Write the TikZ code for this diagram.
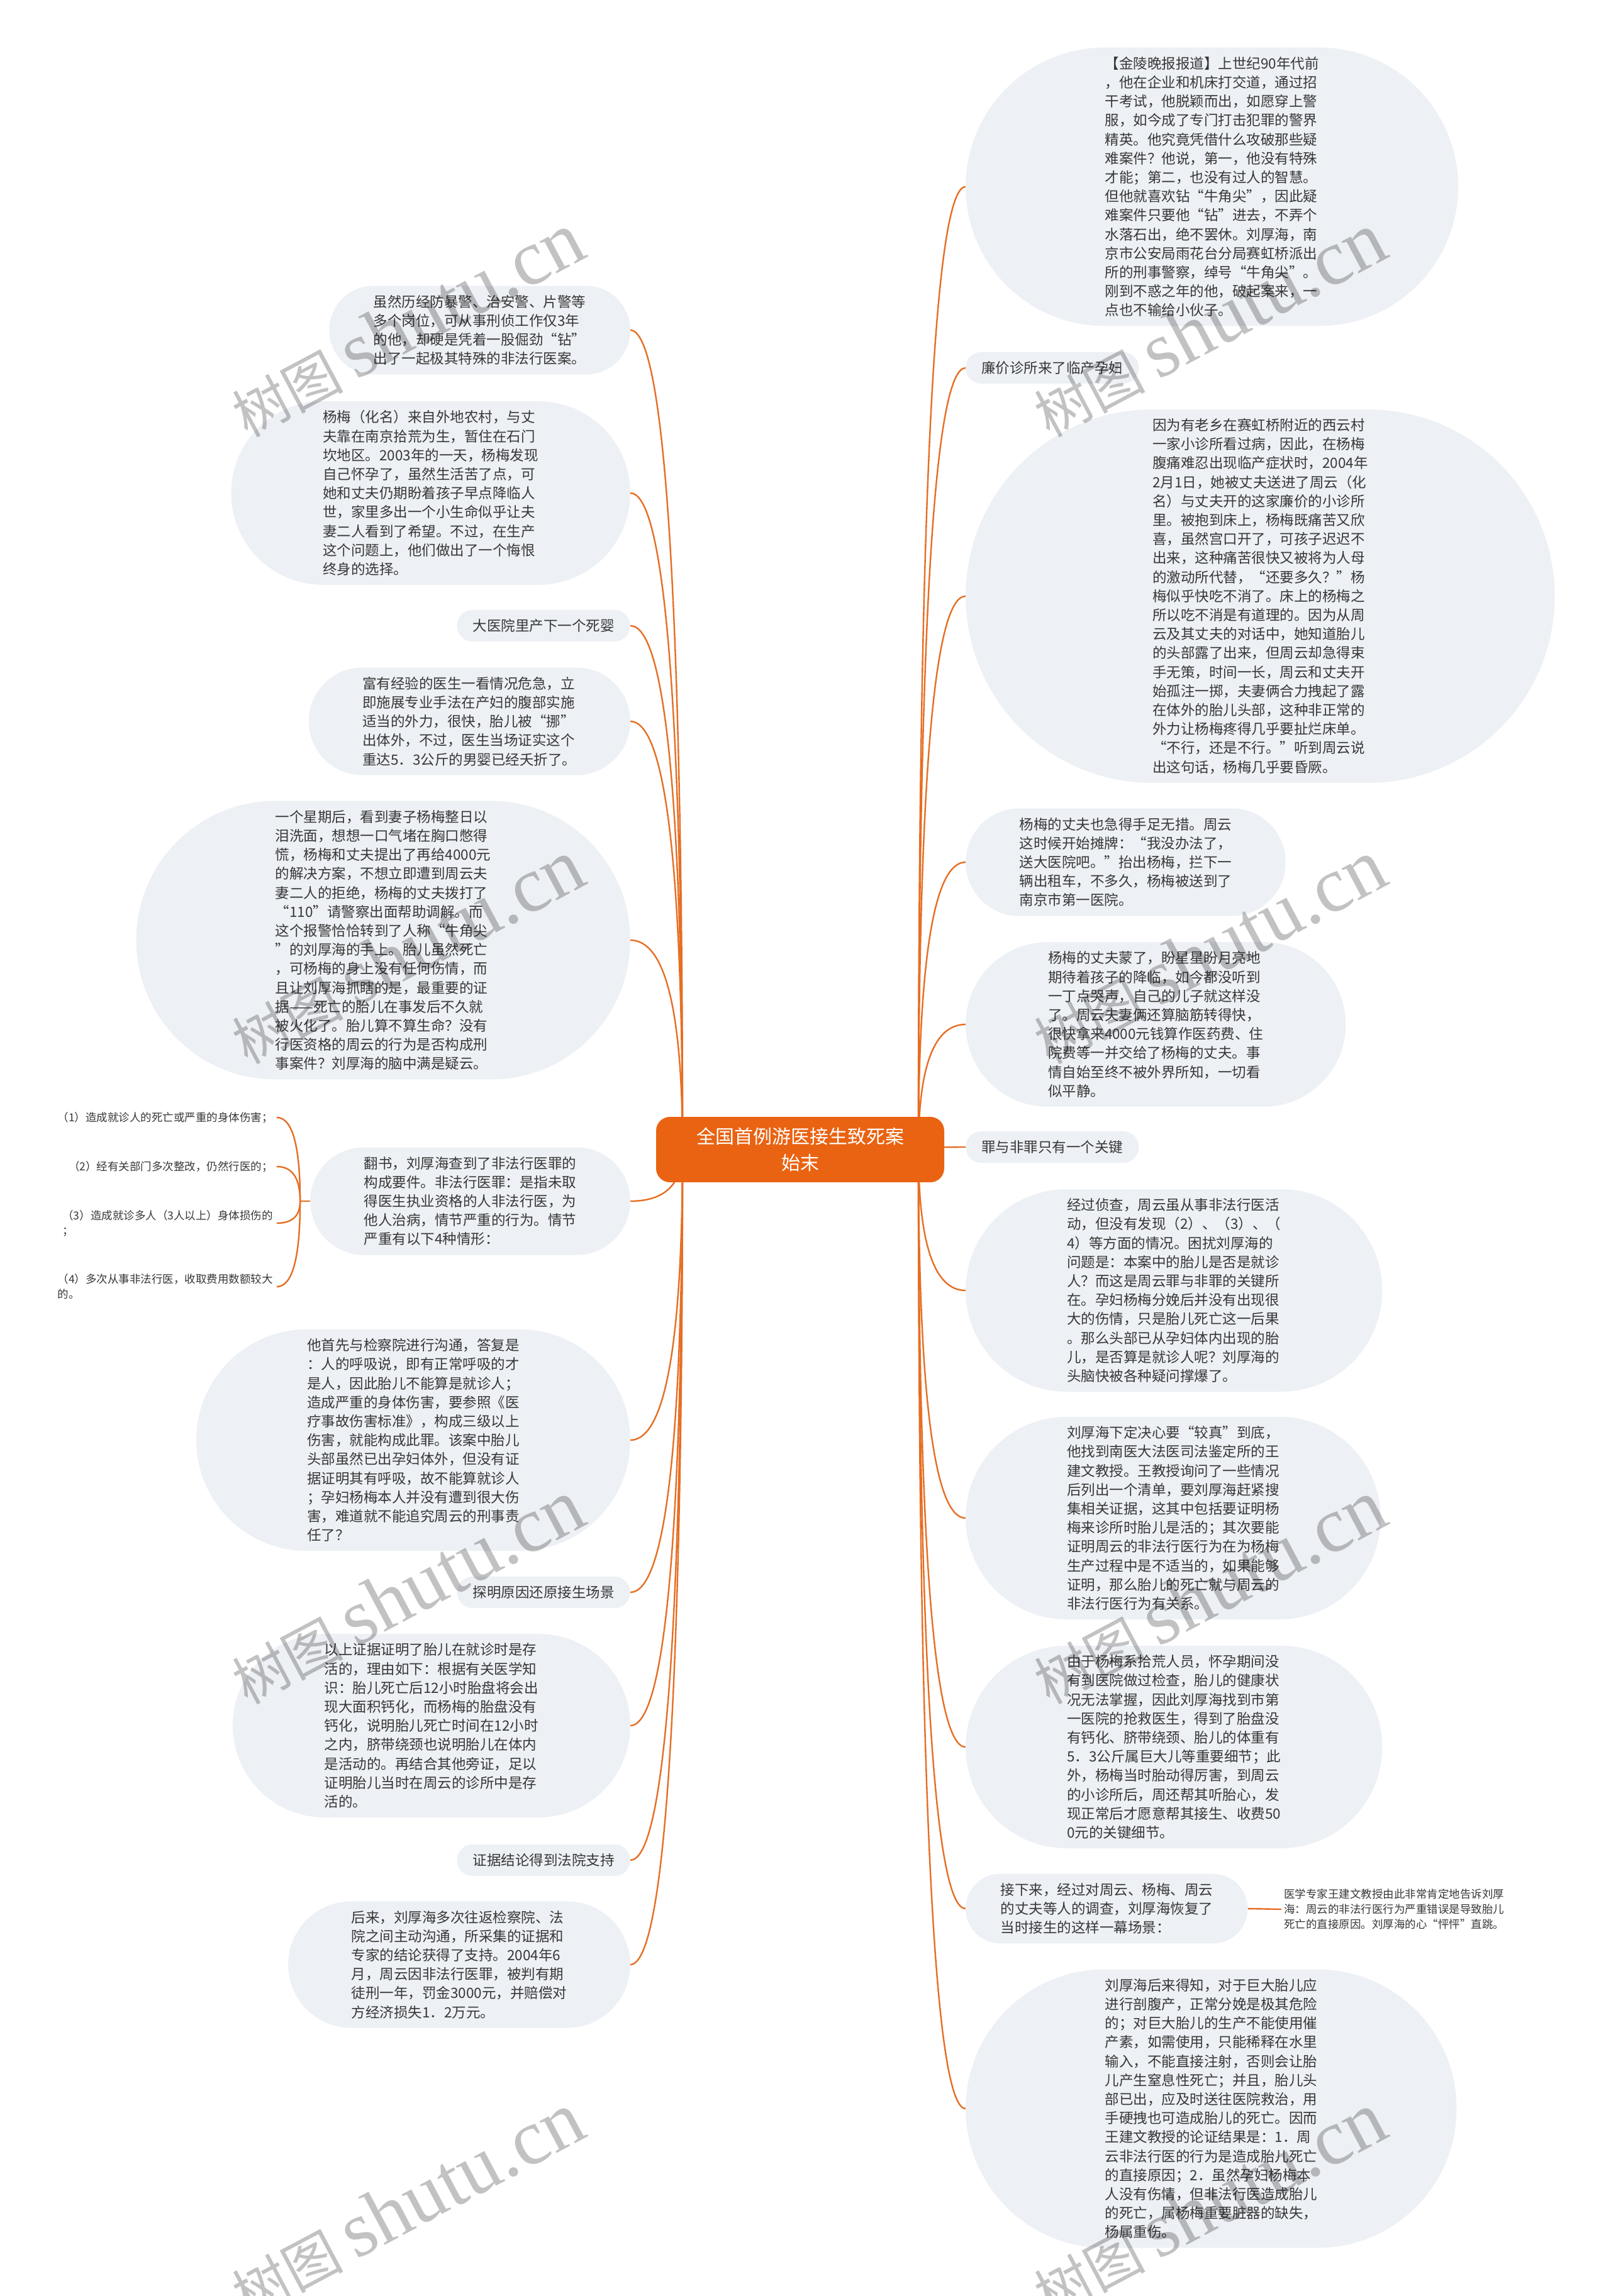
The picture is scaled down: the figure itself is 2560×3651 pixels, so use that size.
\documentclass[tikz,border=0pt]{standalone}
\usepackage{fontspec}
\setmainfont{Noto Sans CJK SC}
\newfontfamily\wmlat{Liberation Serif}
\usetikzlibrary{calc}
\definecolor{bubfill}{RGB}{237,240,244}
\definecolor{txtc}{RGB}{55,55,55}
\definecolor{rootc}{RGB}{233,99,18}
\definecolor{connc}{RGB}{230,110,35}
\pgfdeclarelayer{bg}\pgfdeclarelayer{fg}\pgfsetlayers{bg,main,fg}
\newcommand\mmbodyf{\fontsize{22.5pt}{30.2pt}\selectfont}
\newcommand\mmsmallf{\fontsize{17.5pt}{24pt}\selectfont}
\newcommand\mkbub[6]{%
  \pgfmathsetmacro\bubH{#5*30.2+20}%
  \pgfmathsetmacro\bubR{\bubH/2}%
  \pgfmathsetmacro\bubRc{\bubR-0.3}%
  \node[bub, anchor=#2, minimum height=\bubH pt, inner xsep=\bubR pt, rounded corners=\bubRc pt] (#1) at (#3,#4) {#6};%
}
\newcommand\rconn[1]{\draw[conn] (rR) .. controls ($(rR)!0.667!(rR |- #1.west)$) and ($(#1.west)!0.667!(rR |- #1.west)$) .. (#1.west);}
\newcommand\lconn[1]{\draw[conn] (rL) .. controls ($(rL)!0.667!(rL |- #1.east)$) and ($(#1.east)!0.667!(rL |- #1.east)$) .. (#1.east);}
\newcommand\bconn[1]{\draw[conn] (j6) .. controls ($(j6)!0.667!(j6 |- #1.east)$) and ($(#1.east)!0.667!(j6 |- #1.east)$) .. (#1.east);}
\begin{document}
\begin{tikzpicture}[x=1pt,y=-1pt,
  bub/.style={fill=bubfill, text=txtc, font=\mmbodyf, align=left, inner ysep=0pt},
  item/.style={text=txtc, font=\mmsmallf, align=left, inner xsep=6pt, inner ysep=2pt},
  conn/.style={draw=connc, line width=2.4pt},
  wm/.style={rotate=28, opacity=0.24, text=black}]
\useasboundingbox (0,0) rectangle (2560,3651);

% root
\node[fill=rootc, text=white, rounded corners=22pt, align=center, inner xsep=64pt, inner ysep=17pt,
  font=\fontsize{30pt}{42pt}\selectfont] (root) at (1272,1828) {全国首例游医接生致死案\\始末};
\coordinate (rR) at (1460,1828);
\coordinate (rL) at (1085,1828);

% right side
\mkbub{R1}{west}{1535}{297}{14}{【金陵晚报报道】上世纪90年代前\\，他在企业和机床打交道，通过招\\干考试，他脱颖而出，如愿穿上警\\服，如今成了专门打击犯罪的警界\\精英。他究竟凭借什么攻破那些疑\\难案件？他说，第一，他没有特殊\\才能；第二，也没有过人的智慧。\\但他就喜欢钻“牛角尖”，因此疑\\难案件只要他“钻”进去，不弄个\\水落石出，绝不罢休。刘厚海，南\\京市公安局雨花台分局赛虹桥派出\\所的刑事警察，绰号“牛角尖”。\\刚到不惑之年的他，破起案来，一\\点也不输给小伙子。}
\mkbub{R2}{west}{1535}{585}{1}{廉价诊所来了临产孕妇}
\mkbub{R3}{west}{1535}{948}{19}{因为有老乡在赛虹桥附近的西云村\\一家小诊所看过病，因此，在杨梅\\腹痛难忍出现临产症状时，2004年\\2月1日，她被丈夫送进了周云（化\\名）与丈夫开的这家廉价的小诊所\\里。被抱到床上，杨梅既痛苦又欣\\喜，虽然宫口开了，可孩子迟迟不\\出来，这种痛苦很快又被将为人母\\的激动所代替，“还要多久？”杨\\梅似乎快吃不消了。床上的杨梅之\\所以吃不消是有道理的。因为从周\\云及其丈夫的对话中，她知道胎儿\\的头部露了出来，但周云却急得束\\手无策，时间一长，周云和丈夫开\\始孤注一掷，夫妻俩合力拽起了露\\在体外的胎儿头部，这种非正常的\\外力让杨梅疼得几乎要扯烂床单。\\“不行，还是不行。”听到周云说\\出这句话，杨梅几乎要昏厥。}
\mkbub{R4}{west}{1535}{1371}{5}{杨梅的丈夫也急得手足无措。周云\\这时候开始摊牌：“我没办法了，\\送大医院吧。”抬出杨梅，拦下一\\辆出租车，不多久，杨梅被送到了\\南京市第一医院。}
\mkbub{R5}{west}{1535}{1629}{8}{杨梅的丈夫蒙了，盼星星盼月亮地\\期待着孩子的降临，如今都没听到\\一丁点哭声，自己的儿子就这样没\\了。周云夫妻俩还算脑筋转得快，\\很快拿来4000元钱算作医药费、住\\院费等一并交给了杨梅的丈夫。事\\情自始至终不被外界所知，一切看\\似平静。}
\mkbub{R6}{west}{1535}{1824}{1}{罪与非罪只有一个关键}
\mkbub{R7}{west}{1535}{2052}{10}{经过侦查，周云虽从事非法行医活\\动，但没有发现（2）、（3）、（\\4）等方面的情况。困扰刘厚海的\\问题是：本案中的胎儿是否是就诊\\人？而这是周云罪与非罪的关键所\\在。孕妇杨梅分娩后并没有出现很\\大的伤情，只是胎儿死亡这一后果\\。那么头部已从孕妇体内出现的胎\\儿，是否算是就诊人呢？刘厚海的\\头脑快被各种疑问撑爆了。}
\mkbub{R8}{west}{1535}{2414}{10}{刘厚海下定决心要“较真”到底，\\他找到南医大法医司法鉴定所的王\\建文教授。王教授询问了一些情况\\后列出一个清单，要刘厚海赶紧搜\\集相关证据，这其中包括要证明杨\\梅来诊所时胎儿是活的；其次要能\\证明周云的非法行医行为在为杨梅\\生产过程中是不适当的，如果能够\\证明，那么胎儿的死亡就与周云的\\非法行医行为有关系。}
\mkbub{R9}{west}{1535}{2778}{10}{由于杨梅系拾荒人员，怀孕期间没\\有到医院做过检查，胎儿的健康状\\况无法掌握，因此刘厚海找到市第\\一医院的抢救医生，得到了胎盘没\\有钙化、脐带绕颈、胎儿的体重有\\5．3公斤属巨大儿等重要细节；此\\外，杨梅当时胎动得厉害，到周云\\的小诊所后，周还帮其听胎心，发\\现正常后才愿意帮其接生、收费50\\0元的关键细节。}
\mkbub{R10}{west}{1535}{3035}{3}{接下来，经过对周云、杨梅、周云\\的丈夫等人的调查，刘厚海恢复了\\当时接生的这样一幕场景：}
\node[item, anchor=west, inner xsep=4pt] (R10n) at (2037,3036) {医学专家王建文教授由此非常肯定地告诉刘厚\\海：周云的非法行医行为严重错误是导致胎儿\\死亡的直接原因。刘厚海的心“怦怦”直跳。};
\mkbub{R11}{west}{1535}{3353}{14}{刘厚海后来得知，对于巨大胎儿应\\进行剖腹产，正常分娩是极其危险\\的；对巨大胎儿的生产不能使用催\\产素，如需使用，只能稀释在水里\\输入，不能直接注射，否则会让胎\\儿产生窒息性死亡；并且，胎儿头\\部已出，应及时送往医院救治，用\\手硬拽也可造成胎儿的死亡。因而\\王建文教授的论证结果是：1．周\\云非法行医的行为是造成胎儿死亡\\的直接原因；2．虽然孕妇杨梅本\\人没有伤情，但非法行医造成胎儿\\的死亡，属杨梅重要脏器的缺失，\\杨属重伤。}

% left side
\mkbub{L1}{east}{1002}{525}{4}{虽然历经防暴警、治安警、片警等\\多个岗位，可从事刑侦工作仅3年\\的他，却硬是凭着一股倔劲“钻”\\出了一起极其特殊的非法行医案。}
\mkbub{L2}{east}{1002}{784}{9}{杨梅（化名）来自外地农村，与丈\\夫靠在南京拾荒为生，暂住在石门\\坎地区。2003年的一天，杨梅发现\\自己怀孕了，虽然生活苦了点，可\\她和丈夫仍期盼着孩子早点降临人\\世，家里多出一个小生命似乎让夫\\妻二人看到了希望。不过，在生产\\这个问题上，他们做出了一个悔恨\\终身的选择。}
\mkbub{L3}{east}{1002}{995}{1}{大医院里产下一个死婴}
\mkbub{L4}{east}{1002}{1147}{5}{富有经验的医生一看情况危急，立\\即施展专业手法在产妇的腹部实施\\适当的外力，很快，胎儿被“挪”\\出体外，不过，医生当场证实这个\\重达5．3公斤的男婴已经夭折了。}
\mkbub{L5}{east}{1002}{1495}{14}{一个星期后，看到妻子杨梅整日以\\泪洗面，想想一口气堵在胸口憋得\\慌，杨梅和丈夫提出了再给4000元\\的解决方案，不想立即遭到周云夫\\妻二人的拒绝，杨梅的丈夫拨打了\\“110”请警察出面帮助调解。而\\这个报警恰恰转到了人称“牛角尖\\”的刘厚海的手上。胎儿虽然死亡\\，可杨梅的身上没有任何伤情，而\\且让刘厚海抓瞎的是，最重要的证\\据——死亡的胎儿在事发后不久就\\被火化了。胎儿算不算生命？没有\\行医资格的周云的行为是否构成刑\\事案件？刘厚海的脑中满是疑云。}
\mkbub{L6}{east}{1002}{1910}{5}{翻书，刘厚海查到了非法行医罪的\\构成要件。非法行医罪：是指未取\\得医生执业资格的人非法行医，为\\他人治病，情节严重的行为。情节\\严重有以下4种情形：}
\node[item, anchor=east] (I1) at (440,1777) {（1）造成就诊人的死亡或严重的身体伤害；};
\node[item, anchor=east] (I2) at (440,1855) {（2）经有关部门多次整改，仍然行医的；};
\node[item, anchor=east] (I3) at (440,1945) {（3）造成就诊多人（3人以上）身体损伤的\\；};
\node[item, anchor=east] (I4) at (440,2046) {（4）多次从事非法行医，收取费用数额较大\\的。};
\mkbub{L7}{east}{1002}{2290}{11}{他首先与检察院进行沟通，答复是\\：人的呼吸说，即有正常呼吸的才\\是人，因此胎儿不能算是就诊人；\\造成严重的身体伤害，要参照《医\\疗事故伤害标准》，构成三级以上\\伤害，就能构成此罪。该案中胎儿\\头部虽然已出孕妇体外，但没有证\\据证明其有呼吸，故不能算就诊人\\；孕妇杨梅本人并没有遭到很大伤\\害，难道就不能追究周云的刑事责\\任了？}
\mkbub{L8}{east}{1002}{2532}{1}{探明原因还原接生场景}
\mkbub{L9}{east}{1002}{2744}{9}{以上证据证明了胎儿在就诊时是存\\活的，理由如下：根据有关医学知\\识：胎儿死亡后12小时胎盘将会出\\现大面积钙化，而杨梅的胎盘没有\\钙化，说明胎儿死亡时间在12小时\\之内，脐带绕颈也说明胎儿在体内\\是活动的。再结合其他旁证，足以\\证明胎儿当时在周云的诊所中是存\\活的。}
\mkbub{L10}{east}{1002}{2958}{1}{证据结论得到法院支持}
\mkbub{L11}{east}{1002}{3124}{6}{后来，刘厚海多次往返检察院、法\\院之间主动沟通，所采集的证据和\\专家的结论获得了支持。2004年6\\月，周云因非法行医罪，被判有期\\徒刑一年，罚金3000元，并赔偿对\\方经济损失1．2万元。}

\begin{pgfonlayer}{bg}
\fill[white] (0,0) rectangle (2560,3651);
\foreach \n in {R1,R2,R3,R4,R5,R6,R7,R8,R9,R10,R11} {\rconn{\n}}
\foreach \n in {L1,L2,L3,L4,L5,L6,L7,L8,L9,L10,L11} {\lconn{\n}}
\coordinate (j6) at ($(L6.west)+(-16,0)$);
\draw[conn] (L6.west) -- (j6);
\foreach \n in {I1,I2,I3,I4} {\bconn{\n}}
\draw[conn] (R10.east) -- (R10n.west);
\end{pgfonlayer}

\begin{pgfonlayer}{fg}
\foreach \wx/\wy [count=\k] in {647/517, 647/1514, 647/2532, 647/3506, 1922/517, 1922/1514, 1922/2532, 1922/3506}
  \node[wm] (wm\k) at (\wx,\wy) {\fontsize{88pt}{88pt}\selectfont 树图\hspace{20pt}\fontsize{125pt}{125pt}\wmlat\selectfont shutu.cn};
\end{pgfonlayer}
\end{tikzpicture}
\end{document}
